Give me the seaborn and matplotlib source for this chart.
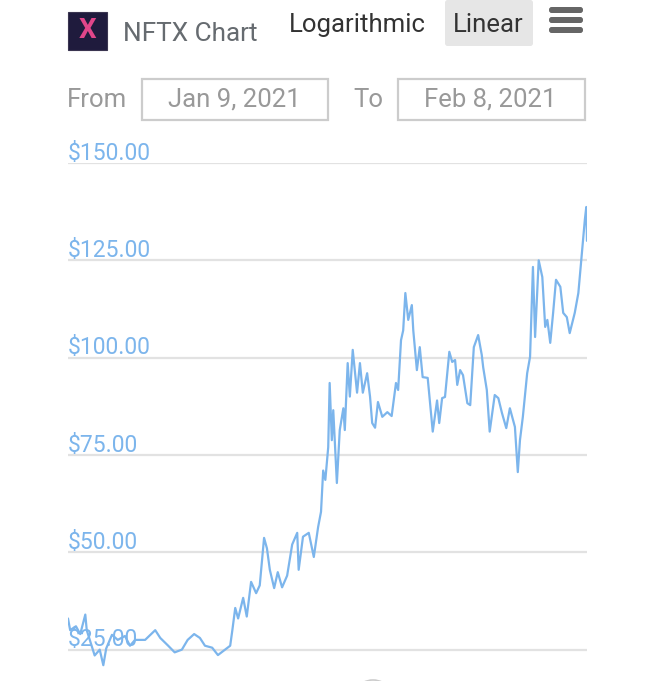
import matplotlib
matplotlib.use("Agg")
import numpy as np
import pandas as pd
import seaborn as sns
import matplotlib.pyplot as plt
from matplotlib.patches import Rectangle, FancyBboxPatch, Arc
from matplotlib.transforms import blended_transform_factory

sns.set_theme(style="white")
plt.rcParams["font.family"] = ["Roboto", "DejaVu Sans"]

# hours since Jan 9, 2021 00:00
hours = [0, 3, 11, 17, 24, 26, 37, 44, 49, 53, 61, 69, 79, 86, 93, 107, 121, 128,
         139, 148, 158, 166, 175, 183, 190, 200, 208, 218, 225, 228, 232, 236, 243,
         248, 254, 261, 266, 272, 276, 280, 286, 291, 297, 304, 311, 318, 320, 326,
         334, 341, 347, 351, 354, 357, 361, 363, 366, 368, 373, 377, 382, 384, 388,
         391, 395, 401, 405, 409, 415, 419, 422, 426, 430, 436, 443, 449, 455, 458,
         462, 465, 468, 472, 477, 479, 484, 488, 492, 499, 506, 512, 515, 519, 523,
         529, 533, 537, 540, 544, 548, 554, 558, 563, 569, 574, 576, 581, 585, 592,
         597, 602, 608, 613, 620, 624, 627, 631, 637, 641, 645, 648, 653, 658, 662,
         665, 669, 673, 677, 683, 687, 692, 696, 703, 708, 713, 717, 719, 720]
price = [33, 30, 31, 29, 34, 30, 23.5, 25, 21, 25.3, 28.8, 27.5, 28.5, 26, 27.5,
         27.5, 30, 28, 26, 24.3, 25, 27.5, 29, 28, 26, 25.5, 23.6, 25, 26, 30, 35.7,
         33, 38.3, 33.5, 42.4, 39.5, 41.5, 53.7, 51, 45.5, 40.8, 44.9, 41, 44, 52, 55,
         45.5, 54, 55, 48.8, 56.5, 60.4, 71, 68.6, 77, 93.5, 78.8, 86.5, 67.8, 81.4,
         87, 81.4, 98.6, 90, 102, 91, 98.6, 91, 96, 90, 83.2, 82, 88.6, 84.8, 86, 85,
         93.5, 91.7, 104.5, 107, 116.6, 109.7, 113.5, 107, 96.8, 102.7, 95, 94.8, 81,
         89, 83.2, 89.6, 89.9, 101.5, 98.9, 99.4, 93, 96.8, 95.5, 88.3, 87.8, 102.7,
         105.8, 100.7, 97.5, 91.7, 81, 90.4, 89.6, 85.8, 81.9, 87, 82.2, 70.6, 78.8,
         84.8, 96, 100.2, 123.3, 105.3, 125, 120.7, 107.9, 109.7, 103.8, 111.5, 120,
         118.2, 111.5, 110.4, 106.3, 111.5, 116.6, 126.9, 135.4, 138.7, 130]
y_ticks = [25, 50, 75, 100, 125, 150]
y_labels = ["$25.00", "$50.00", "$75.00", "$100.00", "$125.00", "$150.00"]

df = pd.DataFrame({"hours": hours, "price": price})

W, H = 645, 681
fig = plt.figure(figsize=(W / 100, H / 100), dpi=100)

def fx(x):
    return x / W

def fy(y):
    return 1 - y / H

ax = fig.add_axes([fx(68), 0, 519 / W, 518 / H])
sns.lineplot(data=df, x="hours", y="price", ax=ax, color="#7cb5ec", linewidth=1.6)
ax.set_xlim(0, 720)
ax.set_ylim(150 - 518 / 3.893, 150)
ax.set_xticks([])
ax.set_yticks(y_ticks)
ax.set_yticklabels([])
ax.tick_params(left=False)
ax.grid(axis="y", color="#e2e2e2", linewidth=1.6)
ax.set_axisbelow(True)
for s in ax.spines.values():
    s.set_visible(False)
ax.set_xlabel("")
ax.set_ylabel("")

tr = blended_transform_factory(ax.transAxes, ax.transData)
for v, lab in zip(y_ticks, y_labels):
    ax.text(0, v - 0.4, lab, transform=tr, ha="left", va="bottom",
            fontsize=16.5, color="#7cb5ec", clip_on=False, zorder=5)

# header: icon
fig.patches.append(Rectangle((fx(68), fy(50)), 39 / W, 38 / H, transform=fig.transFigure,
                             facecolor="#1f1b3d", edgecolor="#3a3550", linewidth=0.8))
fig.text(fx(87.5), fy(31), "X", ha="center", va="center", fontsize=20,
         fontweight="bold", color="#e0468a")
fig.text(fx(123), fy(34), "NFTX Chart", ha="left", va="center", fontsize=18.8, color="#666b70")
fig.text(fx(289), fy(25), "Logarithmic", ha="left", va="center", fontsize=18.5, color="#333333")
fig.patches.append(FancyBboxPatch((fx(445), fy(46)), 88 / W, 46 / H,
                                  boxstyle="round,pad=0,rounding_size=0.004",
                                  transform=fig.transFigure, facecolor="#e6e6e6",
                                  edgecolor="none"))
fig.text(fx(488), fy(25), "Linear", ha="center", va="center", fontsize=18.5, color="#333333")
for yy in (10, 20, 30):
    fig.patches.append(FancyBboxPatch((fx(549), fy(yy + 3)), 34 / W, 6 / H,
                                      boxstyle="round,pad=0,rounding_size=0.004",
                                      transform=fig.transFigure, facecolor="#666666",
                                      edgecolor="none"))

# date range inputs
fig.text(fx(67), fy(100), "From", ha="left", va="center", fontsize=18.5, color="#999999")
fig.patches.append(Rectangle((fx(142), fy(120)), 186 / W, 41 / H, transform=fig.transFigure,
                             facecolor="white", edgecolor="#cccccc", linewidth=1.6))
fig.text(fx(234), fy(100), "Jan 9, 2021", ha="center", va="center", fontsize=18.5, color="#999999")
fig.text(fx(353), fy(100), "To", ha="left", va="center", fontsize=18.5, color="#999999")
fig.patches.append(Rectangle((fx(398), fy(120)), 187 / W, 41 / H, transform=fig.transFigure,
                             facecolor="white", edgecolor="#cccccc", linewidth=1.6))
fig.text(fx(490), fy(100), "Feb 8, 2021", ha="center", va="center", fontsize=18.5, color="#999999")

# scrollbar handle peeking at the bottom
fig.patches.append(Arc((fx(373), fy(700)), 40 / W, 40 / H, theta1=30, theta2=150,
                       transform=fig.transFigure, color="#cccccc", linewidth=1.2))

fig.savefig("out.png", dpi=100)
